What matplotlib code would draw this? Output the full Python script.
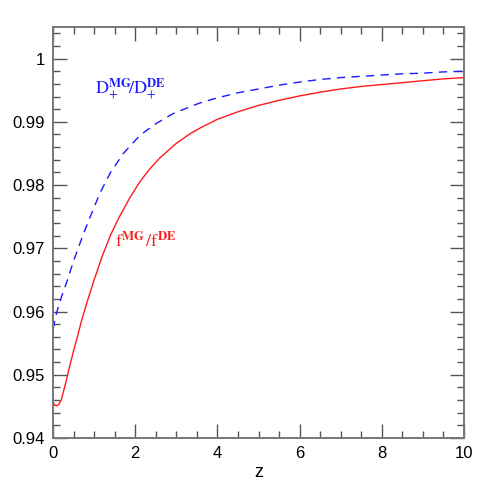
import matplotlib
matplotlib.use("Agg")
import matplotlib.pyplot as plt
from matplotlib.ticker import MultipleLocator

# data
z_f = [0.0, 0.04, 0.08, 0.14, 0.2, 0.3, 0.4, 0.5, 0.6, 0.7, 0.82, 1.0, 1.2, 1.4,
       1.6, 1.87, 2.12, 2.36, 2.6, 3.0, 3.33, 3.6, 4.0, 4.5, 5.0, 5.5, 6.0, 6.5,
       7.0, 7.5, 8.0, 8.5, 9.0, 9.5, 10.0]
f_ratio = [0.9457, 0.9452, 0.9451, 0.9453, 0.9460, 0.9485, 0.9512, 0.9538, 0.9562,
           0.9587, 0.9613, 0.9650, 0.9688, 0.9721, 0.9748, 0.9780, 0.9806, 0.9826,
           0.9843, 0.9866, 0.9881, 0.9891, 0.9904, 0.9916, 0.9926, 0.9934, 0.9941,
           0.9947, 0.9952, 0.9956, 0.9959, 0.9962, 0.9965, 0.9968, 0.9970]

z_d = [0.0, 0.06, 0.13, 0.22, 0.33, 0.5, 0.74, 1.0, 1.14, 1.4, 1.71, 2.12, 2.5,
       2.92, 3.3, 3.58, 4.0, 4.5, 5.0, 5.5, 6.0, 6.5, 7.0, 7.5, 8.0, 8.5, 9.0,
       9.5, 10.0]
d_ratio = [0.9572, 0.9591, 0.9608, 0.9626, 0.9646, 0.9680, 0.9723, 0.9765, 0.9787,
           0.9820, 0.9850, 0.9879, 0.9897, 0.9913, 0.9923, 0.9930, 0.9938, 0.9946,
           0.9952, 0.9958, 0.9963, 0.9967, 0.9970, 0.9972, 0.9974, 0.9976, 0.9977,
           0.9979, 0.9980]

x_ticks = [0, 2, 4, 6, 8, 10]
y_ticks = [0.94, 0.95, 0.96, 0.97, 0.98, 0.99, 1.0]
y_ticklabels = ["0.94", "0.95", "0.96", "0.97", "0.98", "0.99", "1"]

plt.rcParams['font.family'] = ['Liberation Sans', 'DejaVu Sans']
plt.rcParams['mathtext.fontset'] = 'stix'

fig = plt.figure(figsize=(4.91, 4.91), dpi=100)
ax = fig.add_axes([0.108, 0.108, 0.837, 0.837])

ax.plot(z_f, f_ratio, color='#ff1a1a', lw=1.0)
ax.plot(z_d, d_ratio, color='#1a1aff', lw=1.0, dashes=(6, 4.5))

ax.set_xlim(0, 10)
ax.set_ylim(0.94, 1.005)
ax.set_xticks(x_ticks)
ax.set_yticks(y_ticks)
ax.set_yticklabels(y_ticklabels)
ax.xaxis.set_minor_locator(MultipleLocator(0.5))
ax.yaxis.set_minor_locator(MultipleLocator(0.002))
ax.tick_params(which='both', direction='in', top=True, right=True,
               labelsize=12, color='#555555', pad=6)
ax.tick_params(which='major', length=10, width=1.0)
ax.tick_params(which='minor', length=5, width=1.0)
for s in ax.spines.values():
    s.set_color('#777777')
    s.set_linewidth(1.4)

ax.set_xlabel('z', fontsize=13, labelpad=2)

ax.text(1.02, 0.9952, r'$\mathrm{D}_{+}^{\mathbf{MG}}\!/\mathrm{D}_{+}^{\mathbf{DE}}$',
        color='#1a1aff', fontsize=13, va='center', ha='left')
ax.text(1.5, 0.9711, r'$\mathrm{f}^{\mathbf{MG}}\,/\mathrm{f}^{\mathbf{DE}}$',
        color='#ff1a1a', fontsize=13, va='center', ha='left')

fig.savefig('out.png', dpi=100)
